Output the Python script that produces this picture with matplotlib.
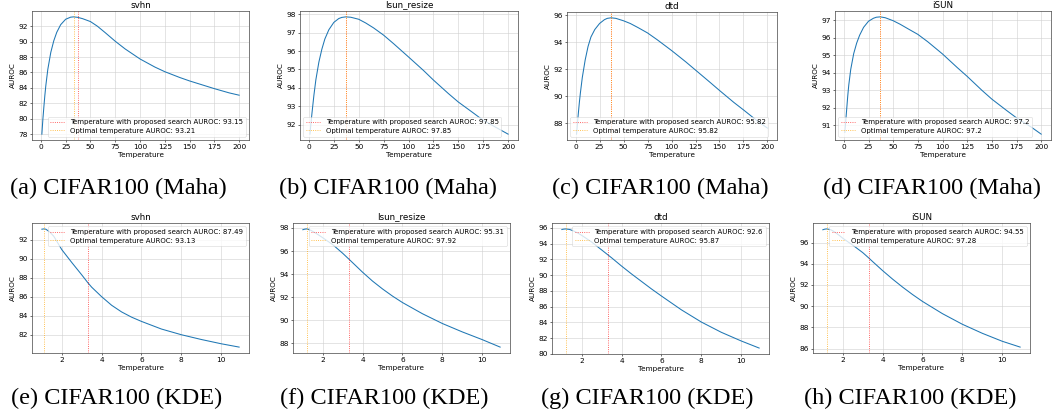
import matplotlib
matplotlib.use("Agg")
import matplotlib.pyplot as plt
from matplotlib.ticker import MultipleLocator

# temperature sweeps for the two scoring methods
maha_temp = [1, 2, 3, 4, 5, 7, 10, 13, 16, 20, 25, 30, 33, 37, 42, 50, 57, 65, 75, 85,
             100, 115, 125, 140, 150, 165, 175, 190, 200]
kde_temp = [1.0, 1.1, 1.2, 1.4, 1.6, 1.8, 2.0, 2.5, 3.0, 3.3, 3.5, 4.0, 4.5,
            5.0, 5.5, 6.0, 7.0, 8.0, 9.0, 10.0, 10.9]

datasets = ["svhn", "lsun_resize", "dtd", "iSUN"]

# AUROC vs temperature, CIFAR100 with Mahalanobis score
maha_svhn = [78.0, 79.9, 81.5, 83.0, 84.3, 86.4, 88.6, 90.1, 91.2, 92.2, 92.9, 93.17, 93.21, 93.15,
             92.98, 92.6, 92.0, 91.15, 90.05, 89.05, 87.75, 86.7, 86.1, 85.35, 84.9, 84.3, 83.9,
             83.35, 83.05]
maha_lsun = [91.5, 92.05, 92.6, 93.1, 93.6, 94.45, 95.4, 96.1, 96.65, 97.15, 97.55, 97.76, 97.82,
             97.85, 97.83, 97.72, 97.52, 97.25, 96.86, 96.4, 95.68, 94.95, 94.43, 93.7, 93.24,
             92.65, 92.25, 91.8, 91.5]
maha_dtd = [87.2, 88.05, 88.85, 89.6, 90.25, 91.4, 92.7, 93.7, 94.4, 94.95, 95.4, 95.68, 95.78,
            95.82, 95.78, 95.6, 95.4, 95.1, 94.7, 94.2, 93.4, 92.55, 91.95, 91.05, 90.44, 89.55,
            89.0, 88.15, 87.65]
maha_isun = [90.6, 91.3, 92.0, 92.7, 93.3, 94.2, 95.1, 95.7, 96.15, 96.6, 96.95, 97.12, 97.18,
             97.2, 97.15, 96.98, 96.78, 96.52, 96.2, 95.78, 95.08, 94.3, 93.8, 93.0, 92.5, 91.85,
             91.43, 90.9, 90.5]

# AUROC vs temperature, CIFAR100 with KDE score
kde_svhn = [93.1, 93.13, 93.1, 92.8, 92.35, 91.65, 90.95, 89.6, 88.3, 87.49, 87.0, 86.0, 85.1,
            84.4, 83.85, 83.4, 82.6, 82.0, 81.5, 81.05, 80.7]
kde_lsun = [97.85, 97.9, 97.92, 97.8, 97.6, 97.38, 97.15, 96.55, 95.8, 95.31, 94.98, 94.15, 93.38,
            92.7, 92.08, 91.52, 90.55, 89.7, 88.97, 88.3, 87.65]
kde_dtd = [95.8, 95.85, 95.87, 95.8, 95.6, 95.35, 95.05, 94.2, 93.2, 92.6, 92.2, 91.15, 90.15,
           89.2, 88.25, 87.35, 85.6, 84.05, 82.75, 81.65, 80.75]
kde_isun = [97.2, 97.26, 97.28, 97.2, 96.98, 96.7, 96.4, 95.75, 95.05, 94.55, 94.2, 93.35, 92.55,
            91.8, 91.1, 90.45, 89.3, 88.3, 87.45, 86.7, 86.15]

# chosen temperatures and the AUROC reported for them
maha_search_t = [37, 37, 37, 37]
maha_search_auroc = [93.15, 97.85, 95.82, 97.2]
maha_opt_t = [33, 37, 37, 37]
maha_opt_auroc = [93.21, 97.85, 95.82, 97.2]

kde_search_t = [3.3, 3.3, 3.3, 3.3]
kde_search_auroc = [87.49, 95.31, 92.6, 94.55]
kde_opt_t = [1.1, 1.2, 1.2, 1.2]
kde_opt_auroc = [93.13, 97.92, 95.87, 97.28]

captions = ["(a) CIFAR100 (Maha)", "(b) CIFAR100 (Maha)", "(c) CIFAR100 (Maha)", "(d) CIFAR100 (Maha)",
            "(e) CIFAR100 (KDE)", "(f) CIFAR100 (KDE)", "(g) CIFAR100 (KDE)", "(h) CIFAR100 (KDE)"]

W, H = 1053, 418
fig = plt.figure(figsize=(W / 100, H / 100), dpi=100)

# axes boxes in pixels: left, right, top, bottom
boxes = [(32, 249, 11, 140), (300, 518, 11, 140), (567, 777, 12, 140), (835, 1051, 11, 140),
         (32, 249, 223, 353), (293, 510, 223, 353), (552, 769, 223, 354), (813, 1030, 223, 353)]
caption_pos = [(118, 188), (388, 188), (660, 188), (932, 188),
               (117, 398), (384, 398), (647, 398), (910, 398)]
ystep = [2, 1, 2, 1, 2, 2, 2, 2]

rows = [
    (maha_temp, [maha_svhn, maha_lsun, maha_dtd, maha_isun], maha_search_t, maha_search_auroc,
     maha_opt_t, maha_opt_auroc, ["lower right", "lower left", "lower left", "lower left"]),
    (kde_temp, [kde_svhn, kde_lsun, kde_dtd, kde_isun], kde_search_t, kde_search_auroc,
     kde_opt_t, kde_opt_auroc, ["upper right"] * 4),
]

for r, (temps, curves, st, sa, ot, oa, locs) in enumerate(rows):
    for c in range(4):
        i = r * 4 + c
        l, rt, t, b = boxes[i]
        ax = fig.add_axes([l / W, 1 - b / H, (rt - l) / W, (b - t) / H])
        ax.plot(temps, curves[c], color="tab:blue", linewidth=0.75)
        ax.axvline(st[c], color="red", linestyle=":", linewidth=0.6, alpha=0.8,
                   label=f"Temperature with proposed search AUROC: {sa[c]}")
        ax.axvline(ot[c], color="orange", linestyle=":", linewidth=0.6, alpha=0.9,
                   label=f"Optimal temperature AUROC: {oa[c]}")
        ax.yaxis.set_major_locator(MultipleLocator(ystep[i]))
        if r == 0:
            ax.xaxis.set_major_locator(MultipleLocator(25))
        else:
            ax.xaxis.set_major_locator(MultipleLocator(2))
        ax.set_title(datasets[c], fontsize=6.3, pad=2.5)
        ax.set_xlabel("Temperature", fontsize=5.2, labelpad=1)
        ax.set_ylabel("AUROC", fontsize=5.2, labelpad=1.5)
        ax.tick_params(labelsize=5.3, length=1.6, width=0.4, pad=1.5)
        ax.grid(True, linewidth=0.4, color="#d0d0d0")
        for s in ax.spines.values():
            s.set_linewidth(0.5)
            s.set_color("#444444")
        leg = ax.legend(loc=locs[c], fontsize=5.0, handlelength=2.0, borderpad=0.4,
                        labelspacing=0.35, framealpha=0.8)
        leg.get_frame().set_linewidth(0.4)
        cx, cy = caption_pos[i]
        fig.text(cx / W, 1 - cy / H, captions[i], ha="center", va="center",
                 fontsize=17.5, family=["Liberation Serif", "DejaVu Serif"])

fig.savefig("out.png", dpi=100)
